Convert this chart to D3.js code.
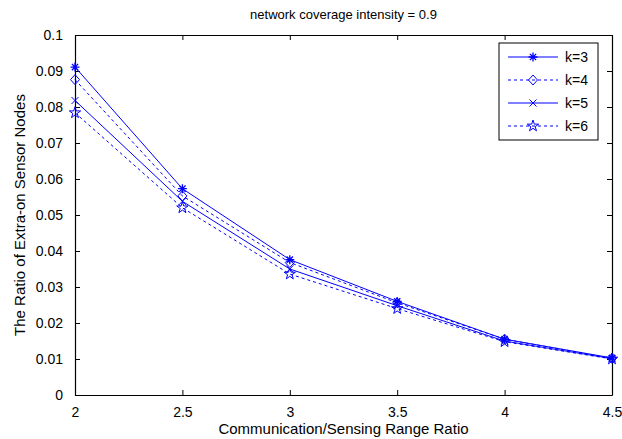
<!DOCTYPE html>
<html>
<head>
<meta charset="utf-8">
<script src="https://cdn.jsdelivr.net/npm/d3@7"></script>
<style>
  body { margin: 0; background: #fff; }
  text { font-family: "Liberation Sans", Arial, sans-serif; fill: #000; }
</style>
</head>
<body>
<svg id="chart" width="622" height="439"></svg>
<script>
'use strict';

// data
var ratios = [2, 2.5, 3, 3.5, 4, 4.5]
var k3 = [0.0911, 0.0573, 0.0376, 0.0260, 0.0155, 0.0103]
var k4 = [0.0876, 0.0553, 0.0368, 0.0256, 0.0155, 0.0102]
var k5 = [0.0818, 0.0538, 0.0350, 0.0248, 0.0150, 0.0101]
var k6 = [0.0784, 0.0520, 0.0336, 0.0240, 0.0148, 0.0100]
var seriesNames = ['k=3', 'k=4', 'k=5', 'k=6']
var xTicks = [2, 2.5, 3, 3.5, 4, 4.5]
var yTicks = d3.range(0, 0.1001, 0.01)

var series = [
  {name: seriesNames[0], values: k3, dash: null, marker: 'asterisk'},
  {name: seriesNames[1], values: k4, dash: '3,3', marker: 'diamond'},
  {name: seriesNames[2], values: k5, dash: null, marker: 'cross'},
  {name: seriesNames[3], values: k6, dash: '3,3', marker: 'pentagram'}
]

var plotL = 75, plotR = 612, plotT = 35, plotB = 395
var blue = '#0000ff'

var svg = d3.select('#chart')
var x = d3.scaleLinear().domain([2, 4.5]).range([plotL, plotR])
var y = d3.scaleLinear().domain([0, 0.1]).range([plotB, plotT])

//axes, MATLAB style with inward ticks on all sides
function fmt(d) { return d3.format('~g')(+d.toFixed(3)) }
svg.append('g').attr('transform', 'translate(0,' + plotB + ')')
  .call(d3.axisBottom(x).tickValues(xTicks).tickSizeInner(-5).tickSizeOuter(0).tickPadding(12).tickFormat(fmt))
svg.append('g').attr('transform', 'translate(0,' + plotT + ')')
  .call(d3.axisTop(x).tickValues(xTicks).tickSizeInner(-5).tickSizeOuter(0).tickFormat(''))
svg.append('g').attr('transform', 'translate(' + plotL + ',0)')
  .call(d3.axisLeft(y).tickValues(yTicks).tickSizeInner(-5).tickSizeOuter(0).tickPadding(12).tickFormat(fmt))
svg.append('g').attr('transform', 'translate(' + plotR + ',0)')
  .call(d3.axisRight(y).tickValues(yTicks).tickSizeInner(-5).tickSizeOuter(0).tickFormat(''))

svg.selectAll('.domain').attr('stroke', '#000').attr('stroke-width', 1.2)
svg.selectAll('.tick line').attr('stroke', '#000')
svg.selectAll('.tick text').attr('font-size', 14)
  .style('font-family', '"Liberation Sans", Arial, sans-serif').attr('fill', '#000')

//markers
function drawMarker(g, type, cx, cy) {
  var s = 4.5
  if (type == 'asterisk') {
    g.append('path')
      .attr('d', 'M' + (cx - s) + ',' + cy + 'H' + (cx + s) +
        'M' + cx + ',' + (cy - s) + 'V' + (cy + s) +
        'M' + (cx - s * 0.7) + ',' + (cy - s * 0.7) + 'L' + (cx + s * 0.7) + ',' + (cy + s * 0.7) +
        'M' + (cx - s * 0.7) + ',' + (cy + s * 0.7) + 'L' + (cx + s * 0.7) + ',' + (cy - s * 0.7))
      .attr('stroke', blue).attr('stroke-width', 1.3).attr('fill', 'none')
  } else if (type == 'diamond') {
    g.append('path')
      .attr('d', 'M' + cx + ',' + (cy - 5) + 'L' + (cx + 4.5) + ',' + cy + 'L' + cx + ',' + (cy + 5) + 'L' + (cx - 4.5) + ',' + cy + 'Z')
      .attr('stroke', blue).attr('stroke-width', 1).attr('fill', 'none')
  } else if (type == 'cross') {
    var c = 3.5
    g.append('path')
      .attr('d', 'M' + (cx - c) + ',' + (cy - c) + 'L' + (cx + c) + ',' + (cy + c) +
        'M' + (cx - c) + ',' + (cy + c) + 'L' + (cx + c) + ',' + (cy - c))
      .attr('stroke', blue).attr('stroke-width', 1).attr('fill', 'none')
  } else {
    g.append('path')
      .attr('d', d3.symbol().type(d3.symbolStar).size(40)())
      .attr('transform', 'translate(' + cx + ',' + cy + ')')
      .attr('stroke', blue).attr('stroke-width', 1).attr('fill', 'none')
  }
}

var line = d3.line().x(function(d, i) {return x(ratios[i])}).y(function(d) {return y(d)})

series.forEach(function(s) {
  svg.append('path').datum(s.values)
    .attr('d', line)
    .attr('fill', 'none')
    .attr('stroke', blue)
    .attr('stroke-width', 1)
    .attr('stroke-dasharray', s.dash)
  var g = svg.append('g')
  s.values.forEach(function(v, i) { drawMarker(g, s.marker, x(ratios[i]), y(v)) })
})

//legend
var leg = svg.append('g')
leg.append('rect').attr('x', 499).attr('y', 43).attr('width', 99).attr('height', 97)
  .attr('fill', '#fff').attr('stroke', '#000').attr('stroke-width', 1)
series.forEach(function(s, i) {
  var ly = 57 + i * 23
  leg.append('line').attr('x1', 508).attr('x2', 558).attr('y1', ly).attr('y2', ly)
    .attr('stroke', blue).attr('stroke-width', 1).attr('stroke-dasharray', s.dash)
  drawMarker(leg, s.marker, 533, ly)
  leg.append('text').attr('x', 565).attr('y', ly + 5).attr('font-size', 14).text(s.name)
})

//titles
svg.append('text').attr('x', (plotL + plotR) / 2).attr('y', 19).attr('text-anchor', 'middle')
  .attr('font-size', 13).text('network coverage intensity = 0.9')
svg.append('text').attr('x', (plotL + plotR) / 2).attr('y', 434).attr('text-anchor', 'middle')
  .attr('font-size', 15).text('Communication/Sensing Range Ratio')
svg.append('text').attr('transform', 'translate(25,' + (plotT + plotB) / 2 + ') rotate(-90)')
  .attr('text-anchor', 'middle').attr('font-size', 15).text('The Ratio of Extra-on Sensor Nodes')
</script>
</body>
</html>
